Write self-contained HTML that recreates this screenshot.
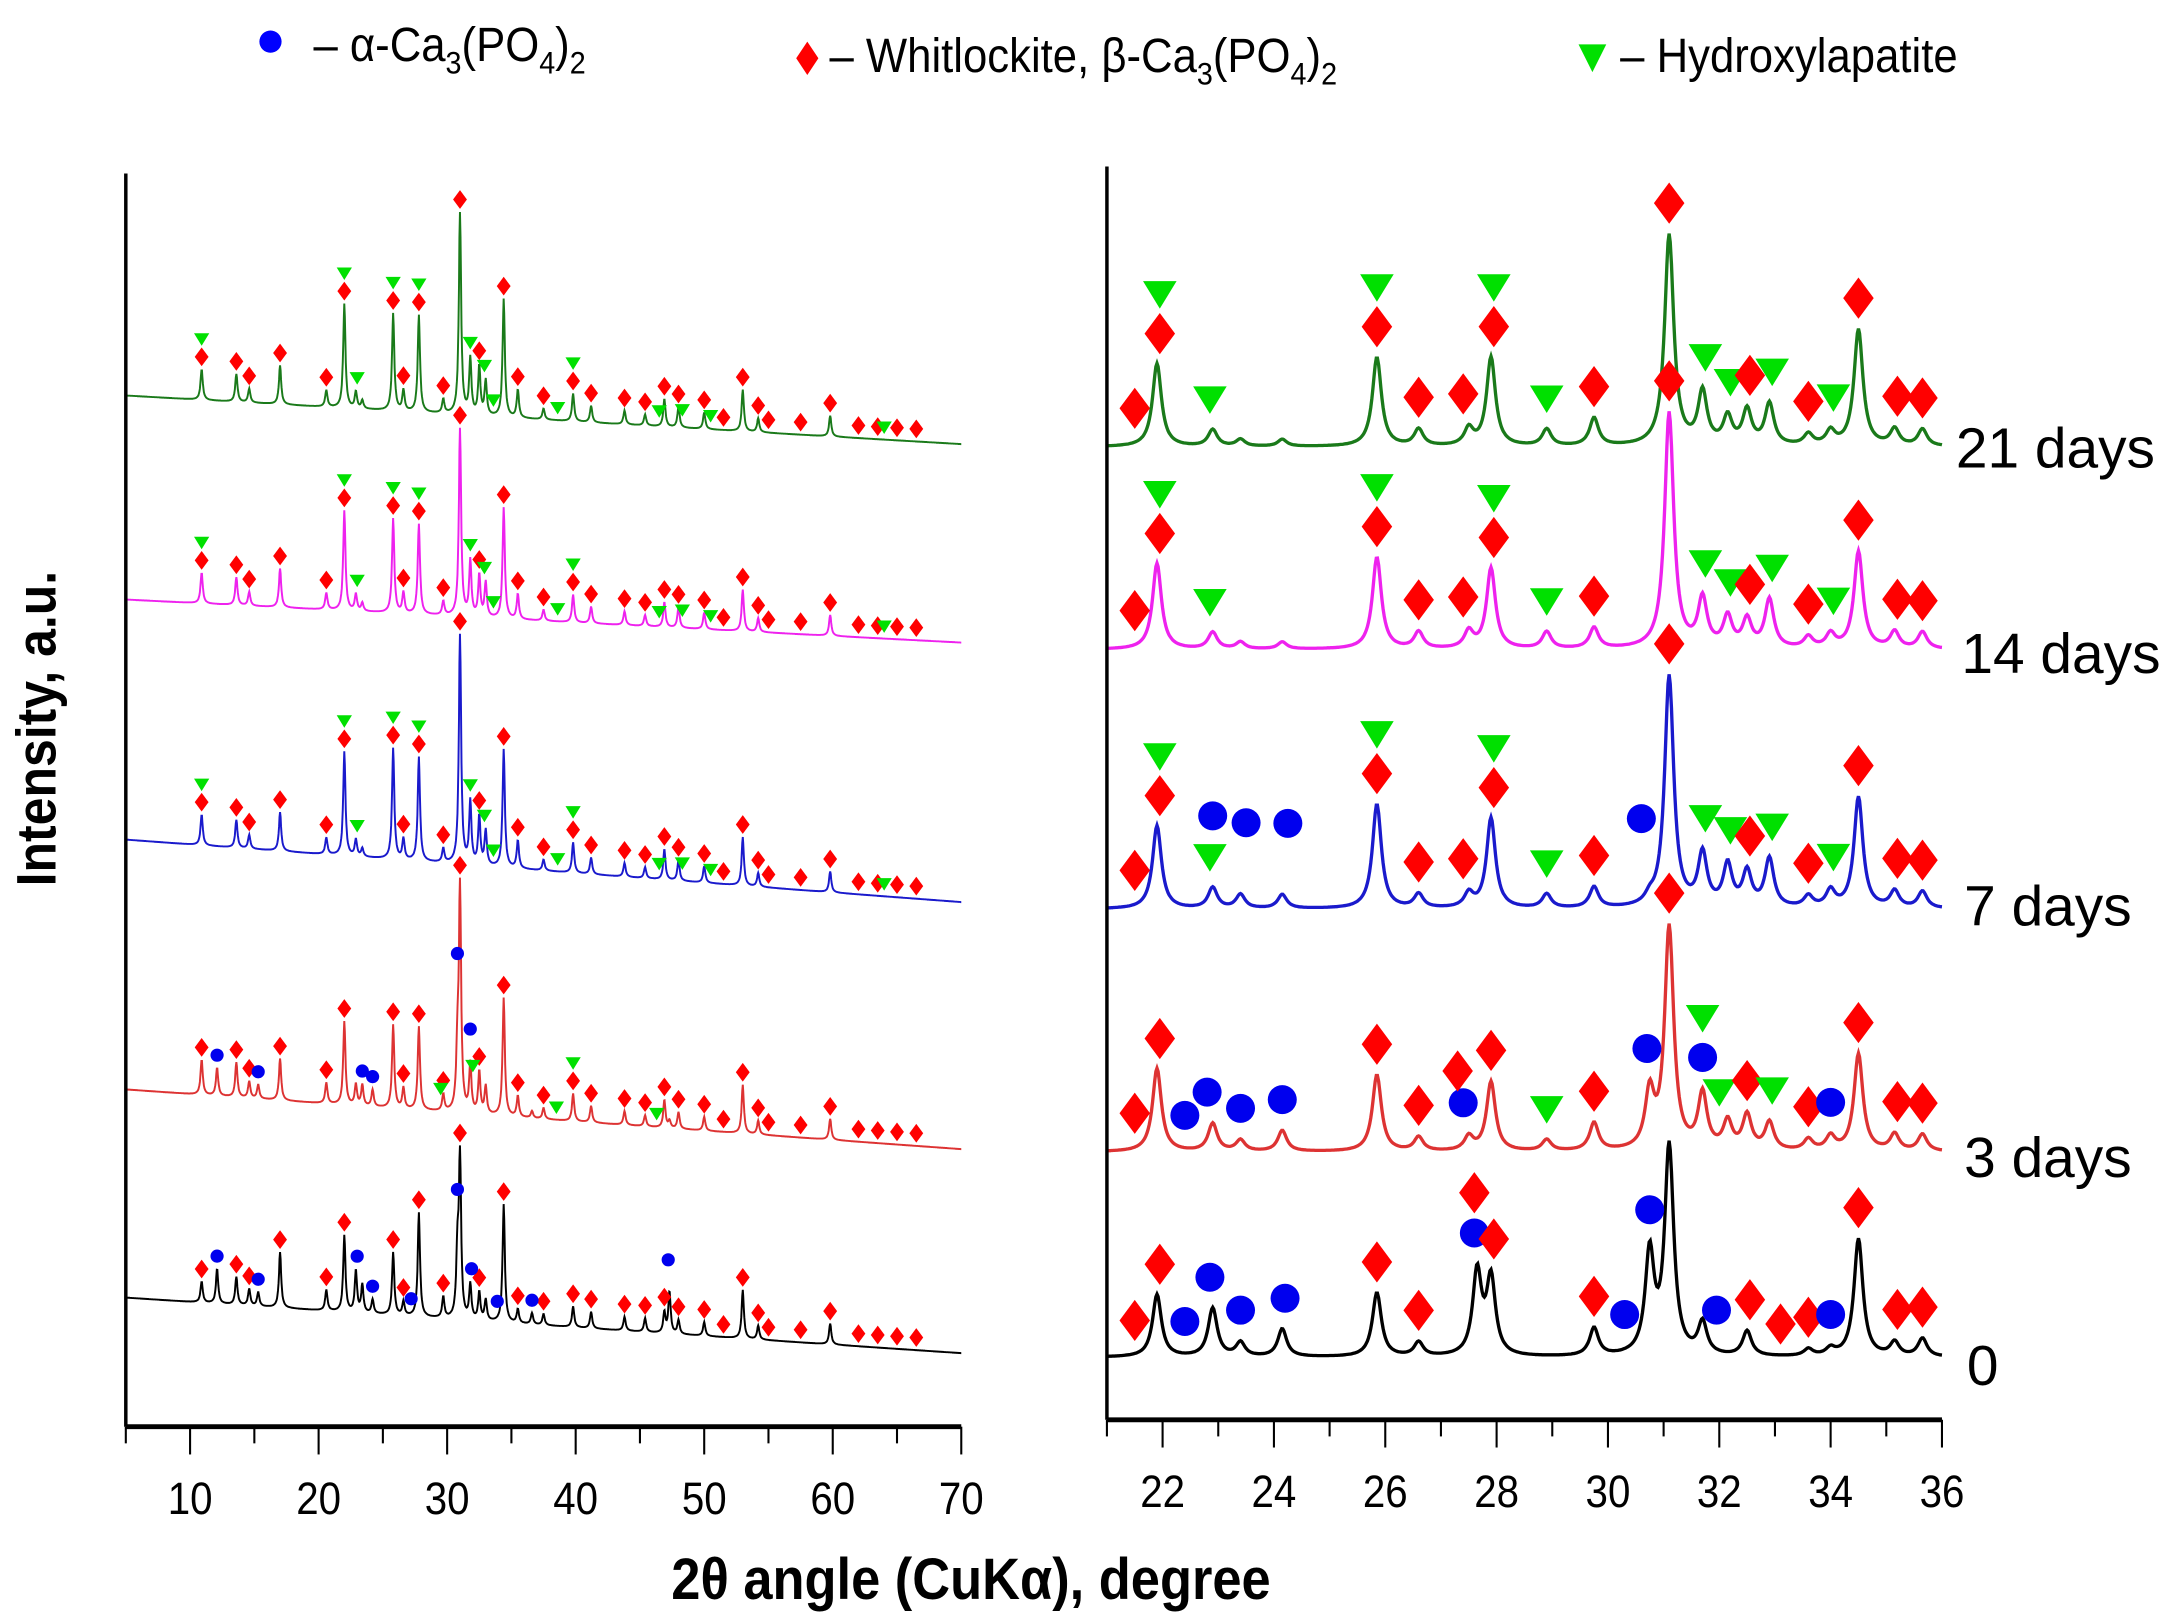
<!DOCTYPE html>
<html><head><meta charset="utf-8"><style>
html,body{margin:0;padding:0;background:#fff;}
svg{display:block;font-family:"Liberation Sans",Arial,sans-serif;}
</style></head><body>
<svg id="chart" width="2175" height="1621" viewBox="0 0 1568 1168" preserveAspectRatio="none" xmlns="http://www.w3.org/2000/svg">
<g>
  <circle cx="195" cy="30" r="8" fill="#0000ff"/>
  <text x="226" y="44" font-size="35" transform="translate(226,0) scale(0.9,1) translate(-226,0)">– α-Ca<tspan font-size="23" dy="9">3</tspan><tspan dy="-9">(PO</tspan><tspan font-size="23" dy="9">4</tspan><tspan dy="-9">)</tspan><tspan font-size="23" dy="9">2</tspan></text>
  <polygon points="582,30 590,42 582,54 574,42" fill="#ff0000"/>
  <text x="598" y="52" font-size="35" transform="translate(598,0) scale(0.9,1) translate(-598,0)">– Whitlockite, β-Ca<tspan font-size="23" dy="9">3</tspan><tspan dy="-9">(PO</tspan><tspan font-size="23" dy="9">4</tspan><tspan dy="-9">)</tspan><tspan font-size="23" dy="9">2</tspan></text>
  <polygon points="1138,32 1158,32 1148,52" fill="#00e000"/>
  <text x="1168" y="52" font-size="35" transform="translate(1168,0) scale(0.9,1) translate(-1168,0)">– Hydroxylapatite</text>
</g>
<text transform="translate(40,525) rotate(-90) scale(0.9,1)" text-anchor="middle" font-size="40" font-weight="bold">Intensity, a.u.</text>
<text transform="translate(700,1152) scale(0.9,1)" text-anchor="middle" font-size="42" font-weight="bold">2θ angle (CuKα), degree</text>
<g id="plot"></g>
</svg>
<script>
// ---------- data ----------
const leftPeaks = [10.9,12.1,13.6,14.6,15.3,17.0,20.6,22.0,22.9,23.4,24.2,25.8,26.6,27.8,29.7,30.8,31.0,31.8,32.5,33.0,34.4,35.5,36.6,37.5,39.8,41.2,43.8,45.4,46.9,47.3,48.0,50.0,53.0,54.2,59.8];
const leftGreen   = [22,0,20,10,0,28,12,75,12,6,0,70,15,70,10,0,145,40,35,25,85,20,0,8,20,12,10,8,20,0,15,12,30,10,15];
const leftMagenta = [22,0,20,10,0,28,12,72,12,6,0,68,15,65,10,0,135,40,30,25,80,18,0,8,20,12,10,8,18,0,15,12,30,10,15];
const leftBlue    = [22,0,20,10,0,28,12,75,12,6,0,80,15,75,10,0,165,45,35,25,85,20,0,8,22,12,10,8,22,0,15,12,35,10,15];
const leftRed     = [25,20,25,12,10,30,15,60,15,15,12,60,15,60,12,40,160,35,30,20,85,15,5,8,20,12,10,8,20,5,12,10,35,10,15];
const leftBlack   = [15,25,20,12,10,40,15,55,30,20,10,45,10,75,15,45,115,25,20,15,85,10,8,8,15,12,10,10,15,30,10,10,35,10,15];
const leftBase0 = [285,432,605,785,935];
const leftBase1 = [320,463,650,828,975];

const rightPeaks = [21.9,22.9,23.4,24.15,25.85,26.6,27.5,27.65,27.9,28.9,29.75,30.75,31.1,31.7,32.15,32.5,32.9,33.6,34.0,34.5,35.15,35.65];
const rightGreen   = [60,12,5,5,64,12,12,0,64,12,20,0,152,38,20,25,30,8,10,84,12,12];
const rightMagenta = [62,12,5,5,66,12,12,0,58,12,15,0,170,35,22,20,35,8,10,70,12,12];
const rightBlue    = [60,15,10,10,75,10,10,0,65,10,15,5,167,38,30,25,35,8,12,80,12,12];
const rightRed     = [60,20,8,15,55,10,10,0,50,8,20,40,160,40,20,25,20,8,10,70,12,12];
const rightBlack   = [45,35,10,20,46,10,0,60,55,0,20,73,150,23,0,18,0,5,5,85,10,13];
const rightBase = [322,468,655,830,978];

const seriesNames = ["21 days","14 days","7 days","3 days","0"];
const seriesColors = ["#1a7a1a","#ee22ee","#1a1acc","#dd3333","#000000"];

// markers: [type, x, level]  d=whitlockite, c=alpha, t=hydroxylapatite
const rMarkHA = [["d",21.5,0],["d",21.95,0],["t",21.95,1],["t",22.85,0],["d",25.85,0],["t",25.85,1],["d",26.6,0],["d",27.4,0],["d",27.95,0],["t",27.95,1],["t",28.9,0],["d",29.75,0],["d",31.1,0],["t",31.75,0],["t",32.2,0],["d",32.55,0],["t",32.95,0],["d",33.6,0],["t",34.05,0],["d",34.5,0],["d",35.2,0],["d",35.65,0]];
const rMarkBlueExtra = [["c",22.9,1],["c",23.5,1],["c",24.25,1],["c",30.6,1]];
const rMarkRed = [["d",21.5,0],["d",21.95,0],["c",22.4,0],["c",22.8,0],["c",23.4,0],["c",24.15,0],["d",25.85,0],["d",26.6,0],["c",27.4,0],["d",27.3,1],["d",27.9,0],["t",28.9,0],["d",29.75,0],["c",30.7,0],["d",31.1,0],["c",31.7,0],["t",31.7,1],["t",32.0,0],["d",32.5,0],["t",32.95,0],["d",33.6,0],["c",34.0,0],["d",34.5,0],["d",35.2,0],["d",35.65,0]];
const rMarkBlack = [["d",21.5,0],["d",21.95,0],["c",22.4,0],["c",22.85,0],["c",23.4,0],["c",24.2,0],["d",25.85,0],["d",26.6,0],["c",27.6,0],["d",27.6,1],["d",27.95,0],["d",29.75,0],["c",30.3,0],["c",30.75,0],["c",31.95,0],["d",32.55,0],["d",33.1,0],["d",33.6,0],["c",34.0,0],["d",34.5,0],["d",35.2,0],["d",35.65,0]];
const rightMarkers = [rMarkHA, rMarkHA, rMarkHA.concat(rMarkBlueExtra), rMarkRed, rMarkBlack];

const lW = [10.9,13.6,14.6,17.0,20.6,22.0,25.8,26.6,27.8,29.7,31.0,32.5,34.4,35.5,37.5,39.8,41.2,43.8,45.4,46.9,48.0,50.0,51.5,53.0,54.2,55.0,57.5,59.8,62.0,63.5,65.0,66.5];
const lHA = [["t",10.9,1],["t",22.0,1],["t",23.0,0],["t",25.8,1],["t",27.8,1],["t",31.8,0],["t",32.9,0],["t",33.6,0],["t",39.8,1],["t",38.6,0],["t",46.5,0],["t",48.3,0],["t",50.5,0],["t",64.0,0]];
const lRedC = [["c",12.1,0],["c",15.3,0],["c",23.4,0],["c",24.2,0],["c",30.8,0],["c",31.8,1],["t",32.0,0],["t",29.5,0],["t",39.8,1],["t",38.5,0],["t",46.3,0]];
const lBlackC = [["c",12.1,0],["c",15.3,0],["c",23.0,0],["c",24.2,0],["c",27.2,0],["c",30.8,0],["c",31.9,0],["c",33.9,0],["c",36.6,0],["c",47.2,1]];
const leftExtra = [lHA, lHA, lHA, lRedC, lBlackC];

// ---------- drawing ----------
const NS="http://www.w3.org/2000/svg";
const plot=document.getElementById('plot');
function el(tag,attrs,parent){const e=document.createElementNS(NS,tag);for(const k in attrs)e.setAttribute(k,attrs[k]);(parent||plot).appendChild(e);return e;}

const L={x0:5,x1:70,px0:90.7,px1:693,top:125,bottom:1028,sig:0.12,step:0.04};
const R={x0:21,x1:36,px0:798,px1:1400,top:120,bottom:1023,sig:0.11,step:0.02};
function sx(P,x){return P.px0+(x-P.x0)/(P.x1-P.x0)*(P.px1-P.px0);}
function curve(P,peaks,h,x){let v=0;for(let i=0;i<peaks.length;i++){const d=(x-peaks[i])/P.sig;v+=h[i]/(1+d*d*1.3);}return v;}

function drawPanel(P,peaks,heights,baseFn,markerSets,ms,gap,stepLev,name){
  const g=el('g',{});
  
  
  for(let s=0;s<heights.length;s++){
    const pts=[];
    const yAt=x=>baseFn(s,x)-curve(P,peaks,heights[s],x);
    for(let x=P.x0;x<=P.x1+1e-9;x+=P.step){pts.push(sx(P,x).toFixed(1)+','+yAt(x).toFixed(1));}
    const pl=el('polyline',{points:pts.join(' '),fill:'none',stroke:seriesColors[s],'stroke-width':P===R?2.4:1.4},g);
    
    
    markerSets[s].forEach(m=>{
      let ymin=Infinity;for(let dx=-0.12;dx<=0.12;dx+=0.02){ymin=Math.min(ymin,yAt(m[1]+dx));}
      const cx=sx(P,m[1]);const cy=ymin-gap-m[2]*stepLev;let mk;
      if(m[0]==='d'){mk=el('polygon',{points:`${cx},${cy-ms*1.35} ${cx+ms},${cy} ${cx},${cy+ms*1.35} ${cx-ms},${cy}`,fill:'#ff0000'},g);}
      else if(m[0]==='c'){mk=el('circle',{cx:cx,cy:cy,r:ms*0.95,fill:'#0000ee'},g);}
      else{mk=el('polygon',{points:`${cx-ms*1.1},${cy-ms*0.8} ${cx+ms*1.1},${cy-ms*0.8} ${cx},${cy+ms}`,fill:'#00e000'},g);}
      
    });
  }
}
const leftMarkers=leftExtra.map(ex=>lW.map(x=>["d",x,0]).concat(ex));
drawPanel(L,leftPeaks,[leftGreen,leftMagenta,leftBlue,leftRed,leftBlack],(s,x)=>leftBase0[s]+(leftBase1[s]-leftBase0[s])*(x-L.x0)/(L.x1-L.x0),leftMarkers,5,9,13,'left');
drawPanel(R,rightPeaks,[rightGreen,rightMagenta,rightBlue,rightRed,rightBlack],(s,x)=>rightBase[s],rightMarkers,11,22,29,'right');

// axes
const leftTicks=[10,20,30,40,50,60,70];
const rightTicks=[22,24,26,28,30,32,34,36];
function axes(P,ticks,minorStep,name){
  const g=el('g',{});
  
  
  el('line',{x1:P.px0,y1:P.top,x2:P.px0,y2:P.bottom,stroke:'#000','stroke-width':2.5},g);
  el('line',{x1:P.px0,y1:P.bottom,x2:P.px1,y2:P.bottom,stroke:'#000','stroke-width':3.5},g);
  for(let x=P.x0;x<=P.x1+1e-9;x+=minorStep){const X=sx(P,x);const maj=ticks.some(t=>Math.abs(t-x)<1e-6);el('line',{x1:X,y1:P.bottom,x2:X,y2:P.bottom+(maj?20:12),stroke:'#000','stroke-width':1.5},g);}
  ticks.forEach(t=>{const X=sx(P,t);const tx=el('text',{transform:`translate(${X},${P.bottom+63}) scale(0.88,1)`,'text-anchor':'middle','font-size':33},g);tx.textContent=t;});
}
axes(L,leftTicks,5,'left');
axes(R,rightTicks,1,'right');

// series labels
const labelY=[322,470,652,833,983];
const labelX=[1410,1414,1416,1416,1418];
seriesNames.forEach((n,i)=>{const t=el('text',{x:labelX[i],y:labelY[i]+15,'font-size':41});t.textContent=n;});
</script>
</body></html>
